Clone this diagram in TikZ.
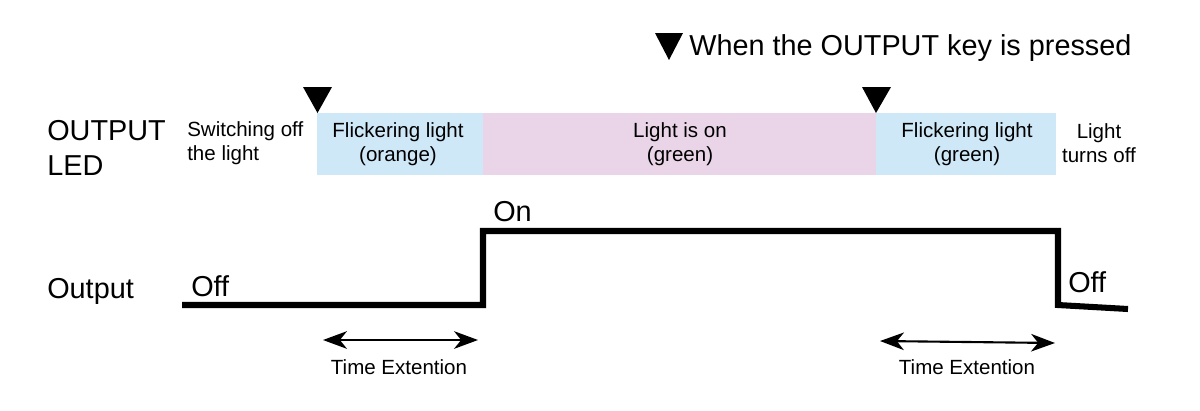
\documentclass[tikz,border=0pt]{standalone}
\usepackage{fontspec}
\setmainfont{Liberation Sans}
\usetikzlibrary{arrows.meta}
\definecolor{flickblue}{RGB}{207,232,248}
\definecolor{onpink}{RGB}{234,213,232}
\tikzset{
  big/.style={font=\fontsize{20.5}{25}\selectfont},
  small/.style={font=\fontsize{14.6}{17}\selectfont, align=center},
  timearrow/.style={{Stealth[length=17pt,width=12.5pt,inset=5pt]}-{Stealth[length=17pt,width=12.5pt,inset=5pt]}, line width=1.5pt},
  signal/.style={line width=4.3pt, line join=miter}
}
\begin{document}
\begin{tikzpicture}[x=0.025cm,y=-0.025cm]
\useasboundingbox (0,0) rectangle (1200,410);
%\draw[step=50,gray,very thin] (0,0) grid (1200,410);

%key pressed
\fill (655,33)--(683,33)--(669,60)--cycle;
\node[big, anchor=base west, inner sep=0pt] (keytext) at (689,55) {When the OUTPUT key is pressed};

%LED
\node[big, anchor=base west, inner sep=0pt] (ledname) at (47,140) {OUTPUT};
\node[big, anchor=base west, inner sep=0pt] (ledname2) at (47,175) {LED};
\fill[flickblue] (317,113) rectangle (483,175);
\fill[onpink] (483,113) rectangle (876,175);
\fill[flickblue] (876,113) rectangle (1056,175);
\node[small] (orange) at (398,144) {Flickering light\\(orange)};
\node[small] (lighton) at (680,144) {Light is on\\(green)};
\node[small] (green) at (967,144) {Flickering light\\(green)};
\node[small, anchor=west, align=left, inner sep=0pt] (switchoff) at (187,143) {Switching off\\the light};
\node[small] (turnsoff) at (1099,143) {Light\\turns off};
\fill (303,87)--(332,87)--(317.5,113)--cycle;
\fill (862,87)--(891,87)--(876,113)--cycle;

%Output
\node[big, anchor=base west, inner sep=0pt] (outname) at (47,298) {Output};
\draw[signal] (182,305)--(483,305)--(483,231)--(1058,231)--(1058,305)--(1128,309);
\node[big, anchor=base west, inner sep=0pt] (on) at (493,221) {On};
\node[big, anchor=base west, inner sep=0pt] (offa) at (191,296) {Off};
\node[big, anchor=base west, inner sep=0pt] (offb) at (1068,292) {Off};

%time extention
\coordinate (ta1) at (323,340);
\coordinate (ta2) at (478,340);
\coordinate (tb1) at (880,341);
\coordinate (tb2) at (1055,343);
\draw[timearrow] (ta1) -- (ta2);
\draw[timearrow] (tb1) -- (tb2);
\node[small, anchor=base] (timea) at (399,374) {Time Extention};
\node[small, anchor=base] (timeb) at (967,374) {Time Extention};

\end{tikzpicture}
\end{document}
